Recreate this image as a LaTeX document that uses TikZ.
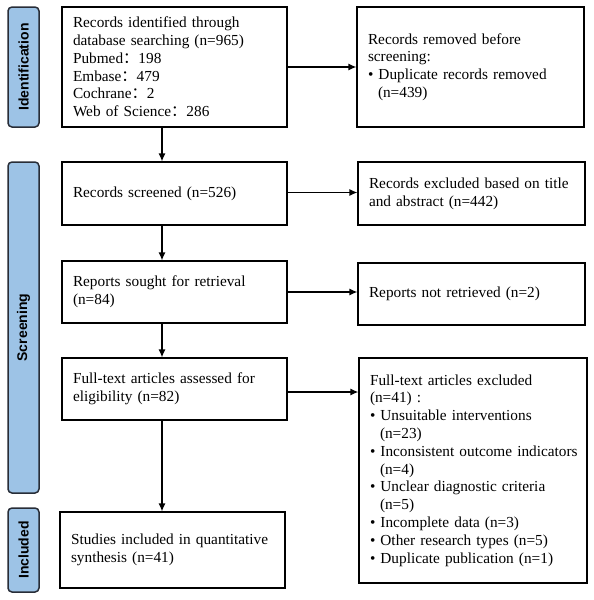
\documentclass[tikz,border=0pt]{standalone}
\usepackage{fontspec}
\setmainfont{Liberation Serif}
\newfontfamily\sidefont{Liberation Sans}
\newfontfamily\cjk{Noto Sans CJK SC}
\usetikzlibrary{arrows.meta}
\definecolor{sideblue}{RGB}{157,195,230}
\definecolor{sideedge}{RGB}{40,45,55}
\newcommand{\cc}{{\cjk ：}}
\begin{document}
\begin{tikzpicture}[x=1pt,y=-1pt,
  box/.style={draw=black, line width=1.2pt, fill=white, inner xsep=11pt, inner ysep=2pt,
    align=left, font=\fontsize{15.3}{17.8}\selectfont},
  sidebox/.style={draw=sideedge, fill=sideblue, line width=1.5pt, rounded corners=4pt,
    minimum width=31pt, inner sep=0pt},
  sidelabel/.style={rotate=90, font=\sidefont\bfseries\fontsize{14}{16}\selectfont},
  arr/.style={line width=1.3pt, -{Latex[length=8pt,width=7pt]}}
]
\useasboundingbox (0,0) rectangle (594,600);

% side bars
\node[sidebox, minimum height=120pt] (sid) at (23.5,67) {};
\node[sidelabel] (sidl) at (sid.center) {Identification};
\node[sidebox, minimum height=331pt] (ssc) at (23.5,327.5) {};
\node[sidelabel] (sscl) at (ssc.center) {Screening};
\node[sidebox, minimum height=84pt] (sin) at (23.5,550) {};
\node[sidelabel] (sinl) at (sin.center) {Included};

% left boxes
\node[box, minimum width=225pt, minimum height=120pt, text width=203pt] (b1) at (174.5,67)
 {Records identified through\\database searching (n=965)\\Pubmed\cc 198\\Embase\cc 479\\Cochrane\cc 2\\Web of Science\cc 286};
\node[box, minimum width=225pt, minimum height=63pt, text width=203pt] (b2) at (174.5,193.5)
 {Records screened (n=526)};
\node[box, minimum width=225pt, minimum height=62pt, text width=203pt] (b3) at (174.5,292)
 {Reports sought for retrieval\\(n=84)};
\node[box, minimum width=225pt, minimum height=62pt, text width=203pt] (b4) at (174.5,389)
 {Full-text articles assessed for\\eligibility (n=82)};
\node[box, minimum width=225pt, minimum height=76pt, text width=203pt] (b5) at (172.5,550)
 {Studies included in quantitative\\synthesis (n=41)};

% right boxes
\node[box, minimum width=227pt, minimum height=120pt, text width=205pt] (r1) at (470.5,67)
 {Records removed before\\screening:\\\textbullet\ Duplicate records removed\\\hspace*{10pt}(n=439)};
\node[box, minimum width=227pt, minimum height=63pt, text width=205pt] (r2) at (471.5,193.5)
 {Records excluded based on title\\and abstract (n=442)};
\node[box, minimum width=227pt, minimum height=62pt, text width=205pt] (r3) at (471.5,294)
 {Reports not retrieved (n=2)};
\node[box, minimum width=228pt, minimum height=225pt, text width=206pt] (r4) at (473,470.5)
 {Full-text articles excluded\\(n=41) :\\
 \textbullet\ Unsuitable interventions\\\hspace*{10pt}(n=23)\\
 \mbox{\textbullet\ Inconsistent outcome indicators}\\\hspace*{10pt}(n=4)\\
 \textbullet\ Unclear diagnostic criteria\\\hspace*{10pt}(n=5)\\
 \textbullet\ Incomplete data (n=3)\\
 \textbullet\ Other research types (n=5)\\
 \textbullet\ Duplicate publication (n=1)};

% vertical connectors
\coordinate (vx) at (162,0);
\draw[arr] (b1.south -| vx) -- (b2.north -| vx);
\draw[arr] (b2.south -| vx) -- (b3.north -| vx);
\draw[arr] (b3.south -| vx) -- (b4.north -| vx);
\draw[arr] (b4.south -| vx) -- (b5.north -| vx);

% horizontal connectors
\draw[arr] (b1.east) -- (b1.east -| r1.west);
\draw[arr] ([yshift=1pt]b2.east) -- ([yshift=1pt]b2.east -| r2.west);
\draw[arr] (b3.east) -- (b3.east -| r3.west);
\draw[arr] ([yshift=-3pt]b4.east) -- ([yshift=-3pt]b4.east -| r4.west);
\end{tikzpicture}
\end{document}
